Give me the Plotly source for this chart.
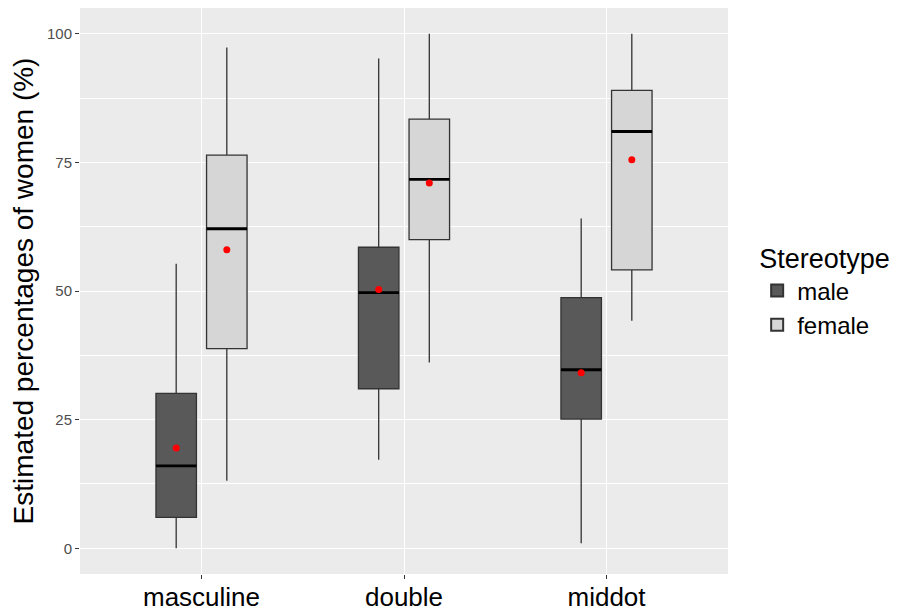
import plotly.graph_objects as go

categories = ["masculine", "double", "middot"]
groups = ["male", "female"]

male_lower = [0, 17.2, 1.0]
male_q1 = [6.0, 31.0, 25.1]
male_median = [16.0, 49.7, 34.7]
male_q3 = [30.1, 58.5, 48.7]
male_upper = [55.3, 95.2, 64.1]
male_mean = [19.5, 50.3, 34.1]

female_lower = [13.1, 36.1, 44.2]
female_q1 = [38.8, 60.0, 54.1]
female_median = [62.1, 71.7, 81.0]
female_q3 = [76.4, 83.4, 89.0]
female_upper = [97.3, 100, 100]
female_mean = [58.0, 71.0, 75.5]

y_ticks = [0, 25, 50, 75, 100]

DODGE = 0.125
BOXW = 0.2
fills = {"male": "#595959", "female": "#d6d6d6"}

series = {
    "male": (male_lower, male_q1, male_median, male_q3, male_upper, male_mean, -DODGE),
    "female": (female_lower, female_q1, female_median, female_q3, female_upper, female_mean, DODGE),
}

fig = go.Figure()
idx = list(range(len(categories)))
for g in groups:
    lo, q1, med, q3, up, mean, off = series[g]
    pos = [i + off for i in idx]
    fig.add_trace(go.Box(
        name=g, x=pos, lowerfence=lo, q1=q1, median=med, q3=q3, upperfence=up,
        width=BOXW, whiskerwidth=0, fillcolor=fills[g],
        line=dict(color="#333333", width=1.3), boxpoints=False,
        hoverinfo="skip", showlegend=True,
    ))
for g in groups:
    lo, q1, med, q3, up, mean, off = series[g]
    pos = [i + off for i in idx]
    mx, my = [], []
    for p, m in zip(pos, med):
        mx += [p - BOXW / 2, p + BOXW / 2, None]
        my += [m, m, None]
    fig.add_trace(go.Scatter(x=mx, y=my, mode="lines",
                             line=dict(color="black", width=2.8),
                             showlegend=False, hoverinfo="skip"))
    fig.add_trace(go.Scatter(x=pos, y=mean, mode="markers",
                             marker=dict(color="red", size=7),
                             showlegend=False, hoverinfo="skip"))

fig.update_layout(
    width=890, height=605,
    margin=dict(l=72, r=170, t=0, b=39, autoexpand=False),
    paper_bgcolor="white", plot_bgcolor="#ebebeb",
    font=dict(family="Liberation Sans, Arial, sans-serif", color="black"),
    boxmode="overlay",
    legend=dict(
        title=dict(text="Stereotype", font=dict(size=27)),
        font=dict(size=24), x=1.045, y=0.602, xanchor="left", yanchor="top",
        bgcolor="rgba(0,0,0,0)", traceorder="normal", itemsizing="constant",
    ),
)
fig.update_xaxes(
    range=[-0.6, 2.6], tickvals=idx, ticktext=categories,
    tickfont=dict(size=26, color="black"), ticklabelstandoff=-4,
    showgrid=True, gridcolor="white", gridwidth=1.2, zeroline=False,
    ticks="outside", ticklen=4, tickcolor="#333333", showline=False,
)
fig.update_yaxes(
    range=[-5, 105], tickvals=y_ticks,
    tickfont=dict(size=15, color="#4d4d4d"),
    showgrid=True, gridcolor="white", gridwidth=1.2, zeroline=False,
    minor=dict(dtick=12.5, tick0=0, showgrid=True, gridcolor="white", gridwidth=0.6),
    ticks="outside", ticklen=4, tickcolor="#333333",
    title=dict(text="Estimated percentages of women (%)", font=dict(size=28), standoff=5),
)

fig.write_html("out.html")
